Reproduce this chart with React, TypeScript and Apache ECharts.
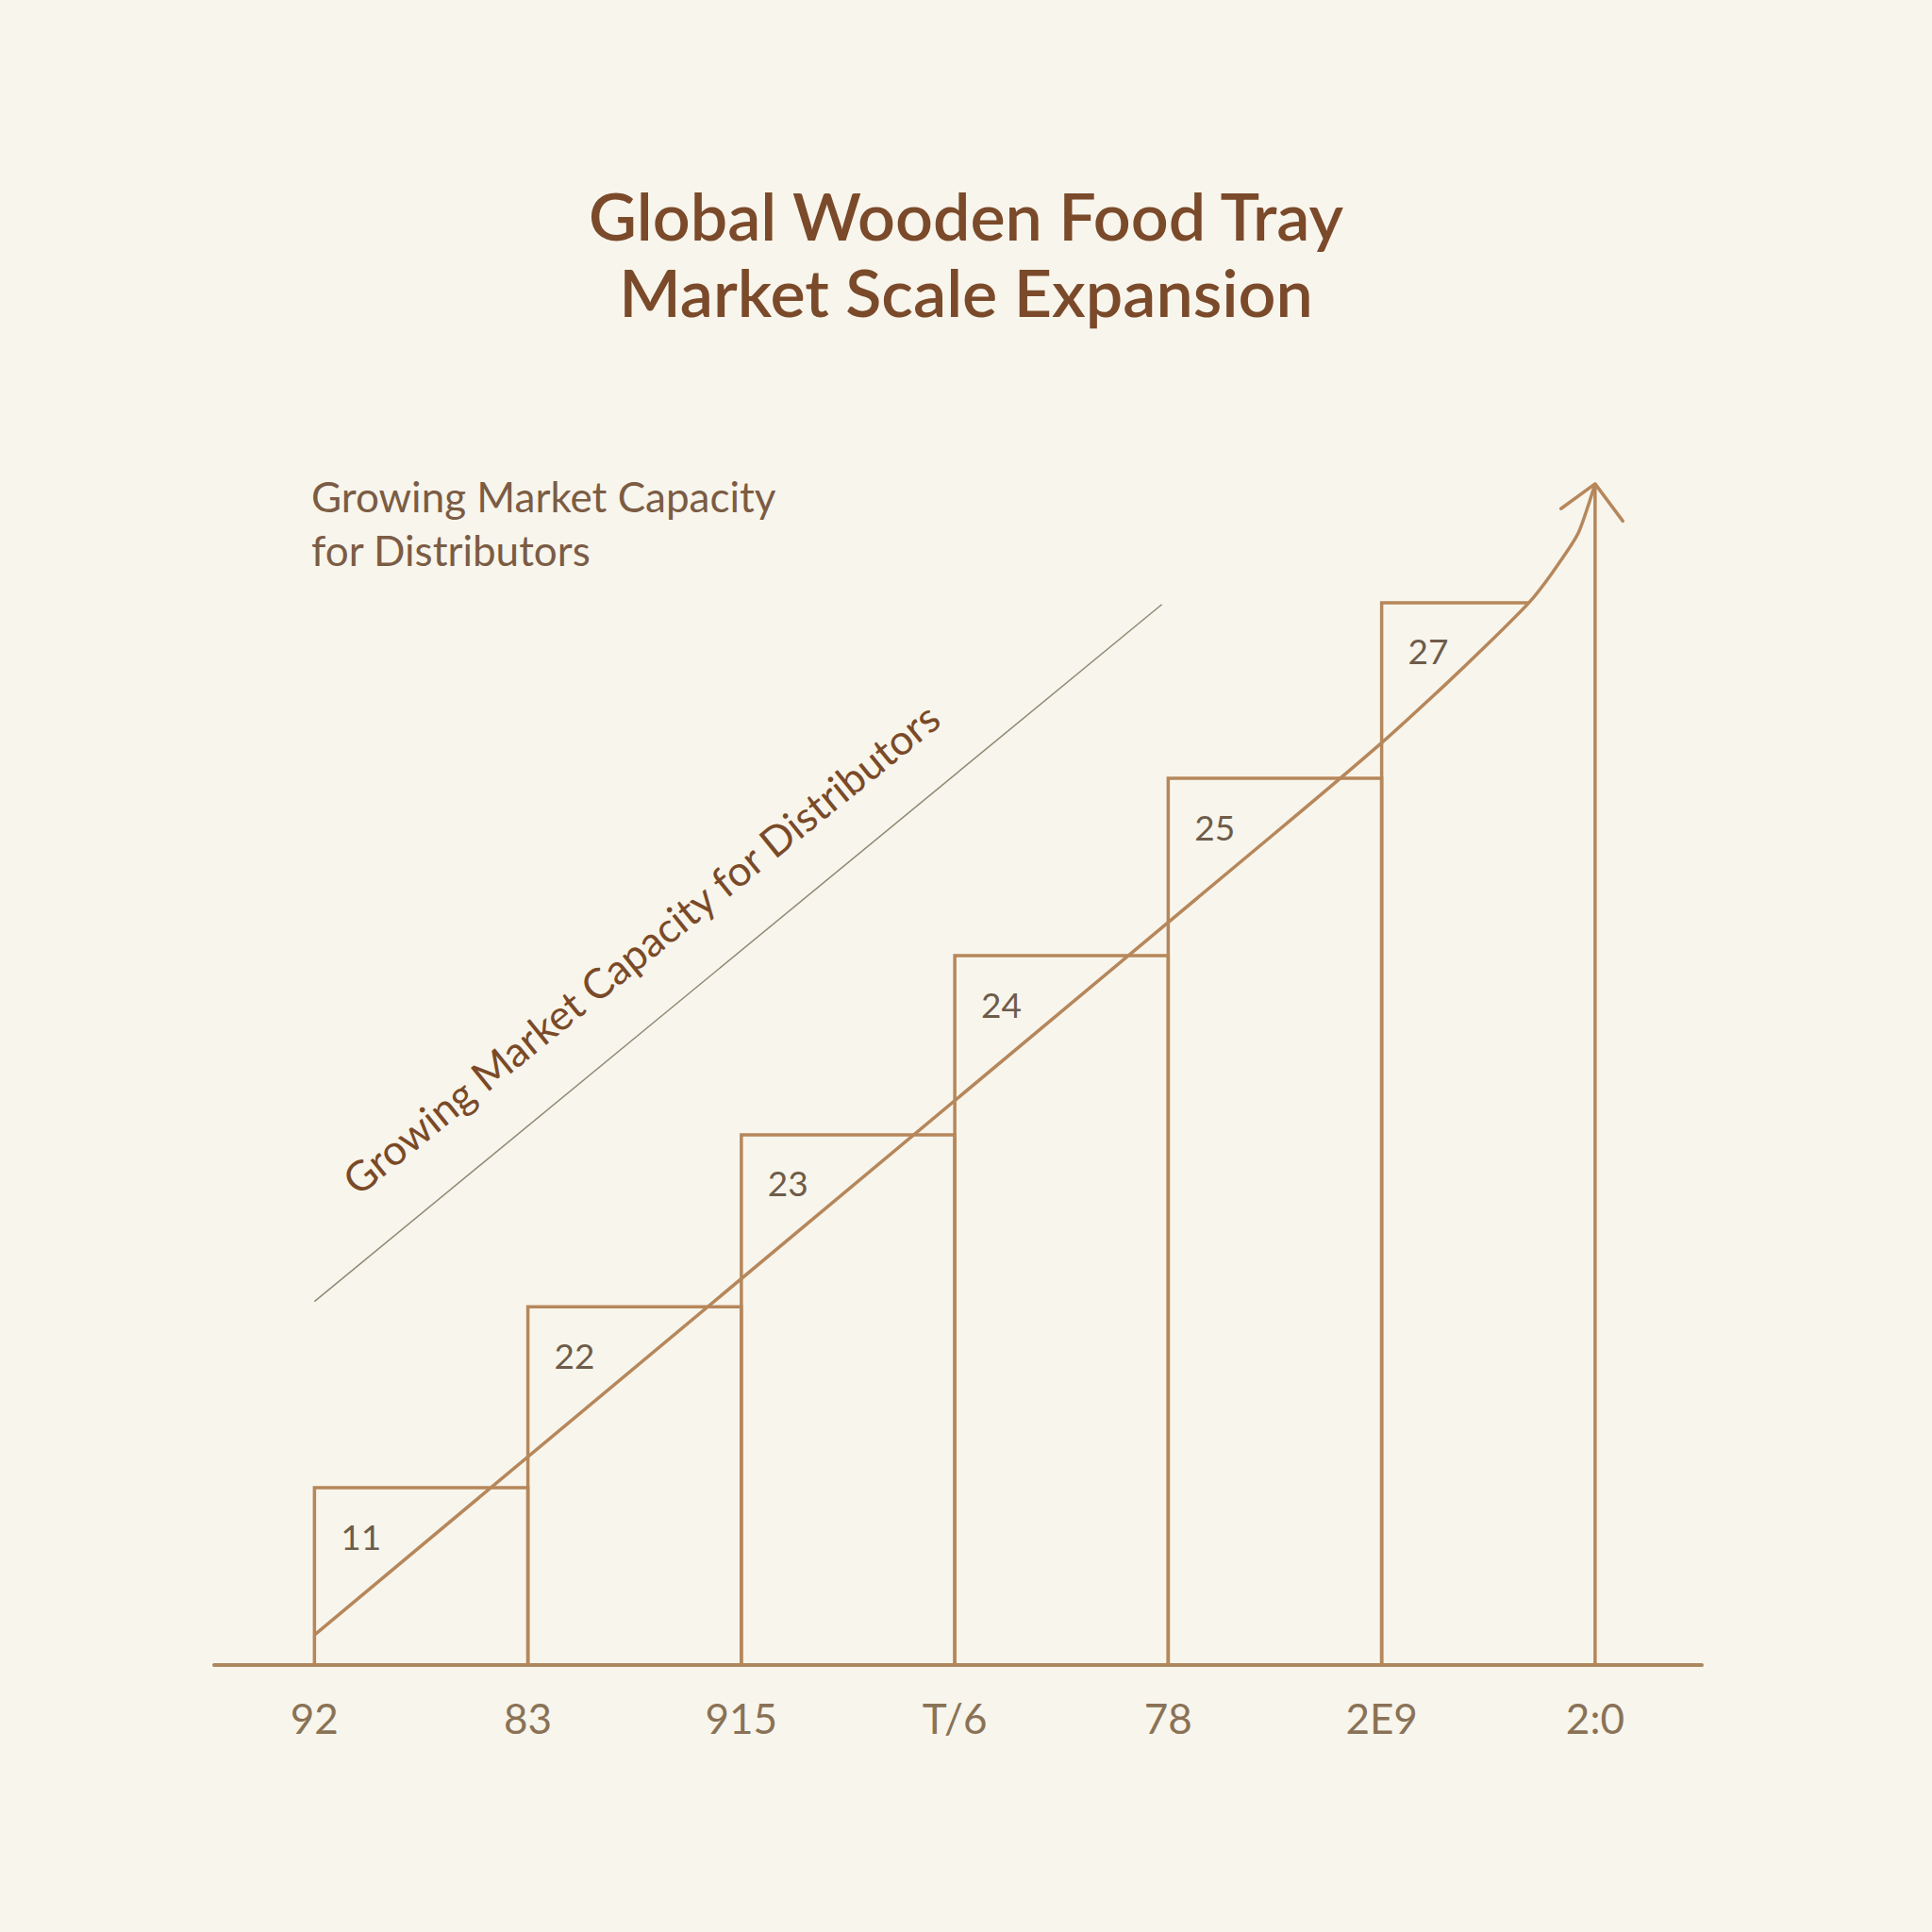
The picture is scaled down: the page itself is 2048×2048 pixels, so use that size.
import React, { useEffect, useRef } from "react";
import * as echarts from "echarts";

const titleLines = ["Global Wooden Food Tray", "Market Scale Expansion"];
const subtitleLines = ["Growing Market Capacity", "for Distributors"];
const diagonalCaption = "Growing Market Capacity for Distributors";

// x-axis tick labels at bar boundaries (0..6)
const tickLabels = ["92", "83", "915", "T/6", "78", "2E9", "2:0"];
// bar heights (in step units)
const barHeights = [1.0, 2.02, 2.99, 4.0, 5.0, 5.99];
// labels printed inside bars
const barLabels = ["11", "22", "23", "24", "25", "27"];
// where each bar's top edge stops (last one is cut by the curve)
const barTopEnds = [1, 2, 3, 4, 5, 5.69];

// trend curve points [x, y]
const trendX = [0, 4.5, 5.0, 5.3, 5.5, 5.69, 5.8, 5.92, 6.0];
const trendY = [0.17, 4.69, 5.2, 5.53, 5.76, 5.99, 6.16, 6.38, 6.66];
// arrow shaft & head
const shaftX = [6, 6];
const shaftY = [0, 6.66];
const headX = [5.84, 6, 6.13];
const headY = [6.52, 6.66, 6.45];
// thin guide line
const guideX = [0, 3.97];
const guideY = [2.05, 5.98];

const BROWN = "#b6875b";
const AXIS = "#ad875f";

export default function App() {
  const ref = useRef<HTMLDivElement>(null);
  useEffect(() => {
    if (!ref.current) return;
    const chart = echarts.init(ref.current, null, { renderer: "svg" });
    const barData = barHeights.map((h, i) => [i, h, barTopEnds[i], i]);
    const zip = (xs: number[], ys: number[]) => xs.map((x, i) => [x, ys[i]]);
    chart.setOption({
      animation: false,
      backgroundColor: "#f8f5ec",
      title: {
        text: titleLines.join("\n"),
        left: "center",
        top: 182,
        textStyle: {
          fontFamily: "Lato",
          fontSize: 70,
          lineHeight: 81,
          fontWeight: 600,
          color: "#7a4a2a",
        },
      },
      grid: { left: 227, right: 244, top: 449, bottom: 283 },
      xAxis: {
        type: "value",
        min: -0.47,
        max: 6.5,
        axisLine: { show: true, lineStyle: { color: AXIS, width: 4 } },
        axisTick: { show: false },
        splitLine: { show: false },
        axisLabel: {
          customValues: [0, 1, 2, 3, 4, 5, 6],
          formatter: (v: number) => tickLabels[Math.round(v)] ?? "",
          fontFamily: "Lato",
          fontSize: 44,
          color: "#8a7256",
          margin: 34,
        },
      },
      yAxis: {
        type: "value",
        min: 0,
        max: 7,
        show: false,
        splitLine: { show: false },
      },
      series: [
        {
          type: "custom",
          clip: false,
          data: barData,
          renderItem: (params: any, api: any) => {
            const i = api.value(0);
            const h = api.value(1);
            const te = api.value(2);
            const idx = api.value(3);
            const p0 = api.coord([i, 0]);
            const p1 = api.coord([i, h]);
            const p2 = api.coord([te, h]);
            const last = idx === barHeights.length - 1;
            const pts = last
              ? [p0, p1, p2]
              : [p0, p1, p2, api.coord([i + 1, 0])];
            return {
              type: "group",
              children: [
                {
                  type: "polyline",
                  shape: { points: pts },
                  style: { stroke: BROWN, lineWidth: 3.5, fill: "none" },
                },
                {
                  type: "text",
                  x: p1[0] + 28,
                  y: p1[1] + 51,
                  style: {
                    text: barLabels[idx],
                    fontFamily: "Lato",
                    fontSize: 37,
                    fill: "#6e5c4a",
                    verticalAlign: "middle",
                    align: "left",
                  },
                },
              ],
            };
          },
          z: 2,
        },
        {
          type: "line",
          data: zip(trendX, trendY),
          smooth: 0.2,
          symbol: "none",
          lineStyle: { color: BROWN, width: 3.5 },
          z: 3,
        },
        {
          type: "line",
          data: zip(shaftX, shaftY),
          symbol: "none",
          lineStyle: { color: BROWN, width: 3.5 },
          z: 3,
        },
        {
          type: "line",
          data: zip(headX, headY),
          symbol: "none",
          lineStyle: { color: BROWN, width: 3.5, cap: "round", join: "round" },
          z: 3,
        },
        {
          type: "line",
          data: zip(guideX, guideY),
          symbol: "none",
          lineStyle: { color: "#8e8a76", width: 1.5 },
          z: 1,
        },
      ],
      graphic: [
        {
          type: "text",
          left: 330,
          top: 497,
          style: {
            text: subtitleLines.join("\n"),
            fontFamily: "Lato",
            fontSize: 44,
            lineHeight: 57,
            fill: "#7b5c44",
          },
        },
        {
          type: "text",
          x: 679,
          y: 1005,
          rotation: (39 * Math.PI) / 180,
          style: {
            text: diagonalCaption,
            fontFamily: "Lato",
            fontSize: 44,
            fill: "#7a4a28",
            align: "center",
            verticalAlign: "middle",
          },
        },
      ],
    });
    return () => chart.dispose();
  }, []);
  return (
    <div
      ref={ref}
      style={{ position: "fixed", left: 0, top: 0, width: 2048, height: 2048 }}
    />
  );
}
